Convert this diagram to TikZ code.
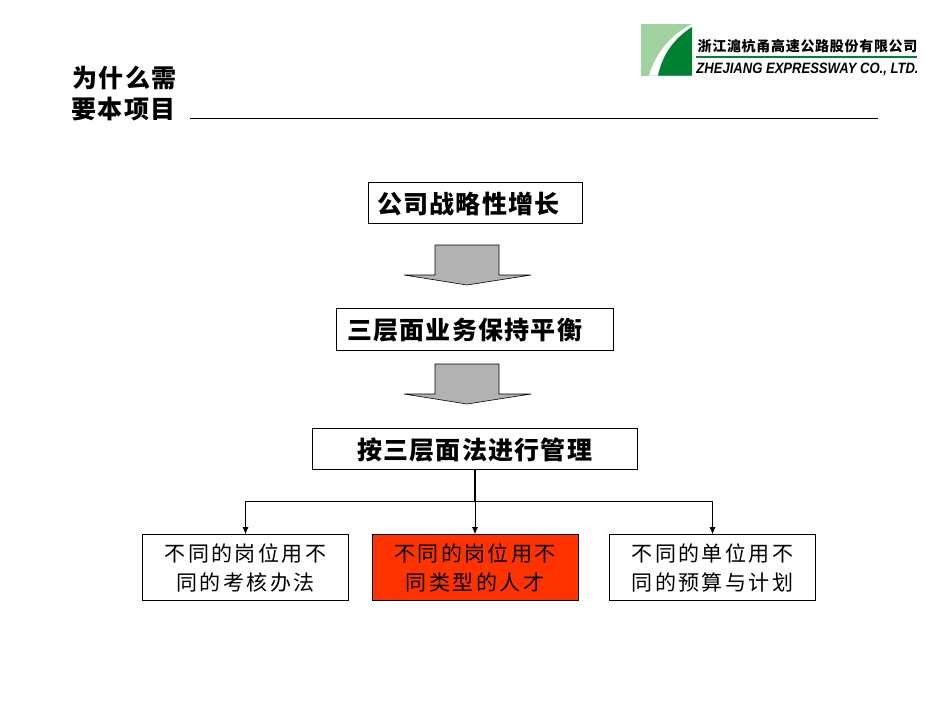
\documentclass[tikz,border=0pt]{standalone}
\usepackage{fontspec}
\usetikzlibrary{arrows.meta}
\newfontfamily\cjk{Noto Sans CJK SC}[LetterSpace=5]
\newfontfamily\cjksmall{Noto Sans CJK SC}[LetterSpace=11.5]
\newfontfamily\logocjk{Noto Sans CJK SC}[LetterSpace=5]
\setsansfont{Liberation Sans}
\definecolor{logodark}{RGB}{0,128,50}
\definecolor{logolight}{RGB}{160,210,160}
\definecolor{boxred}{RGB}{255,51,0}
\definecolor{arrowgray}{RGB}{178,178,178}
\newcommand{\boxtext}[1]{\raisebox{0pt}[\dimexpr\height+3pt\relax]{#1}}
\tikzset{
	maintext/.style={inner sep=0pt,font=\cjk\bfseries\fontsize{25}{25}\selectfont},
	mainbox/.style={maintext,draw,line width=0.8pt},
	subbox/.style={draw,line width=0.8pt,inner sep=0pt,minimum width=206,minimum height=66,align=center,
		font=\cjksmall\fontsize{21}{29}\selectfont},
}
\begin{document}
\begin{tikzpicture}[x=1pt,y=-1pt]
	\useasboundingbox (0,0) rectangle (950,713);

	\node[maintext] (title1) at (124.5,78) {为什么需};
	\node[maintext] (title2) at (123.5,109) {要本项目};
	\coordinate (rulea) at (190,118.5);
	\coordinate (ruleb) at (878,118.5);
	\draw[line width=0.8pt] (rulea) -- (ruleb);

	% logo
	\fill[logolight] (641,24) rectangle (692,75.5);
	\fill[white] (649,75.5) .. controls (656,52) and (672,34) .. (692,24) -- (692,27) .. controls (675,38) and (663,53) .. (658,75.5) -- cycle;
	\fill[logodark] (692,27) .. controls (675,38) and (663,53) .. (658,75.5) -- (692,75.5) -- cycle;
	\node[inner sep=0pt,font=\logocjk\bfseries\fontsize{14}{14}\selectfont] (logocn) at (807.5,46) {浙江滬杭甬高速公路股份有限公司};
	\node[inner sep=0pt,font=\sffamily\bfseries\itshape\fontsize{15}{15}\selectfont] (logoen) at (807.5,69.5) {\scalebox{0.87}[1]{ZHEJIANG EXPRESSWAY CO., LTD.}};
	\coordinate (logoa) at (696,57);
	\coordinate (logob) at (917,57);
	\draw[logodark,line width=1.5pt] (logoa) -- (logob);

	\node[mainbox,inner xsep=9pt,text width=196pt,align=left,minimum height=41] (growth) at (475,202.5) {\boxtext{公司战略性增长}};
	\node[mainbox,inner xsep=11pt,text width=255pt,align=left,minimum height=42] (balance) at (474.5,329) {\boxtext{三层面业务保持平衡}};
	\node[mainbox,minimum width=325,minimum height=41] (manage) at (474.5,448.5) {\boxtext{按三层面法进行管理}};

	\foreach \y in {245,364} {
			\draw[fill=arrowgray,line width=0.6pt] (435,\y) -- (499,\y) -- (499,\y+30) -- (531,\y+30)
				-- (467,\y+40) -- (404,\y+30) -- (435,\y+30) -- cycle;
		}

	\node[subbox] (staff1) at (245.5,567.5) {不同的岗位用不\\同的考核办法};
	\node[subbox,fill=boxred] (staff2) at (475,567.5) {不同的岗位用不\\同类型的人才};
	\node[subbox] (staff3) at (712.5,567.5) {不同的单位用不\\同的预算与计划};

	\coordinate (fork) at (475,501);
	\draw[line width=1.2pt] (manage.south -| fork) -- (fork);
	\foreach \i in {1,2,3} {
			\draw[-{Latex[length=7pt,width=6pt]},line width=0.7pt] (fork) -| (staff\i.north);
		}
\end{tikzpicture}
\end{document}
